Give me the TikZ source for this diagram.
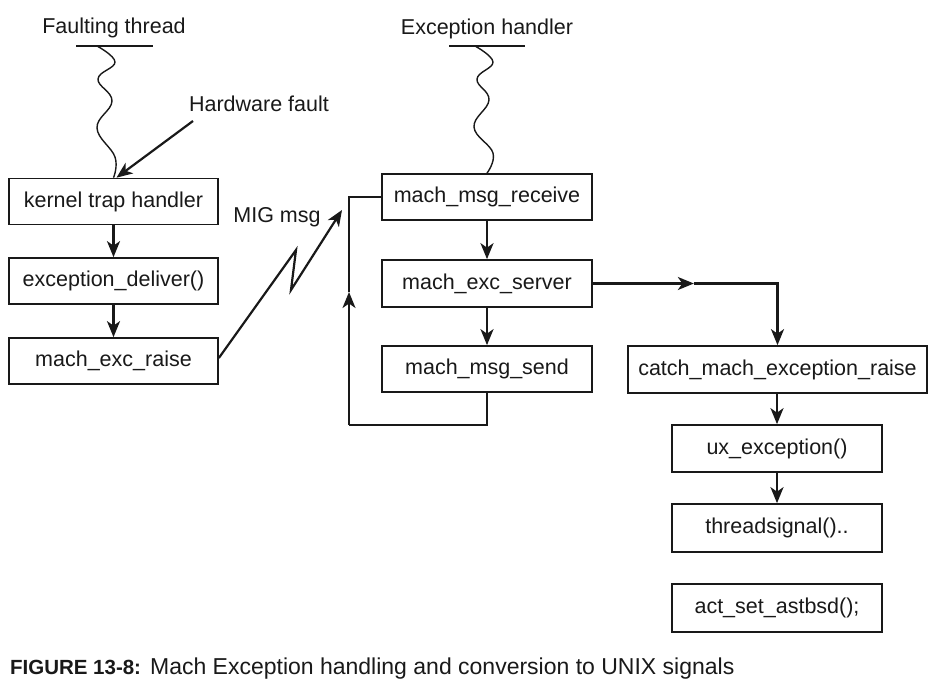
\documentclass[tikz,border=0pt]{standalone}
\usepackage{fontspec}
\setmainfont{Liberation Sans}
\usetikzlibrary{arrows.meta}
\definecolor{ink}{RGB}{25,25,25}
\begin{document}
\begin{tikzpicture}[x=1pt,y=-1pt,line width=2.2pt,draw=ink,
  box/.style={draw=ink,line width=1.7pt,minimum height=46pt,inner sep=0pt,text=ink,font=\fontsize{21.5}{25}\selectfont},
  lbl/.style={text=ink,inner sep=0pt,font=\fontsize{21.5}{25}\selectfont},
  arr/.style={-{Stealth[length=16pt,width=13pt,inset=4.5pt]}}]
\useasboundingbox[fill=white] (0,0) rectangle (936,688);
% left column
\node[box,minimum width=209pt] (kth) at (113.5,201.5) {kernel trap handler};
\node[box,minimum width=209pt] (ed) at (113.5,281) {exception\_deliver()};
\node[box,minimum width=209pt] (mer) at (113.5,361) {mach\_exc\_raise};
% middle column
\node[box,minimum width=210pt] (mmr) at (487,197) {mach\_msg\_receive};
\node[box,minimum width=210pt,minimum height=47pt] (mes) at (487,283.5) {mach\_exc\_server};
\node[box,minimum width=210pt] (mms) at (487,369) {mach\_msg\_send};
% right column
\node[box,minimum width=299pt,minimum height=47pt] (cmer) at (777.5,369.5) {catch\_mach\_exception\_raise};
\node[box,minimum width=210pt,minimum height=47pt] (ux) at (777,448.5) {ux\_exception()};
\node[box,minimum width=210pt,minimum height=48pt] (ts) at (777,528) {threadsignal()..};
\node[box,minimum width=210pt,minimum height=48pt] (act) at (777,608) {act\_set\_astbsd();};
% labels
\node[lbl] (ft) at (114,28) {Faulting thread};
\node[lbl] (eh) at (487,29) {Exception handler};
\node[lbl] (hw) at (259,104) {Hardware fault};
\node[lbl] (mig) at (277,217) {MIG msg};
% thread lines
\draw[line width=1.7pt] (76,46) -- (153,46);
\draw[line width=1.4pt] plot[smooth,tension=0.7] coordinates {(97,46) (115,62) (98,79) (112,101) (97,128) (115,157) (kth.north)};
\draw[line width=1.7pt] (449,46) -- (525,46);
\draw[line width=1.4pt] plot[smooth,tension=0.7] coordinates {(475,46) (493,62) (477,79) (489,100) (474,127) (493,153) (mmr.north)};
% hardware fault
\coordinate (hwt) at (193,121);
\draw[arr] (hwt) -- ([xshift=3pt]kth.north);
% vertical arrows
\draw[arr] (kth) -- (ed);
\draw[arr] (ed) -- (mer);
\draw[arr] (mmr) -- (mes);
\draw[arr] (mes) -- (mms);
\draw[arr] (cmer.south -| ux.north) -- (ux.north);
\draw[arr] (ux) -- (ts);
% server to catch
\path (mes.east) ++(101,0) coordinate (m1);
\draw[arr] (mes.east) -- (m1);
\draw[arr] (m1) -| (cmer.north);
% loop back
\coordinate (lb) at (349,425);
\coordinate (la) at (349,292);
\draw (mms.south) |- (lb);
\draw[arr] (lb) -- (la);
\draw (la) |- (mmr.west);
% MIG zigzag
\coordinate (z1) at (296,250);
\coordinate (z2) at (291,290);
\coordinate (zt) at (342,210);
\draw[arr] ([yshift=3pt]mer.east) -- (z1) -- (z2) -- (zt);
% caption
\node[anchor=west,inner sep=0pt,text=ink] (cap) at (9,669) {\fontsize{20.5}{24}\selectfont\textbf{FIGURE 13-8:}\hspace{9pt}\fontsize{23}{27}\selectfont Mach Exception handling and conversion to UNIX signals};
\end{tikzpicture}
\end{document}
